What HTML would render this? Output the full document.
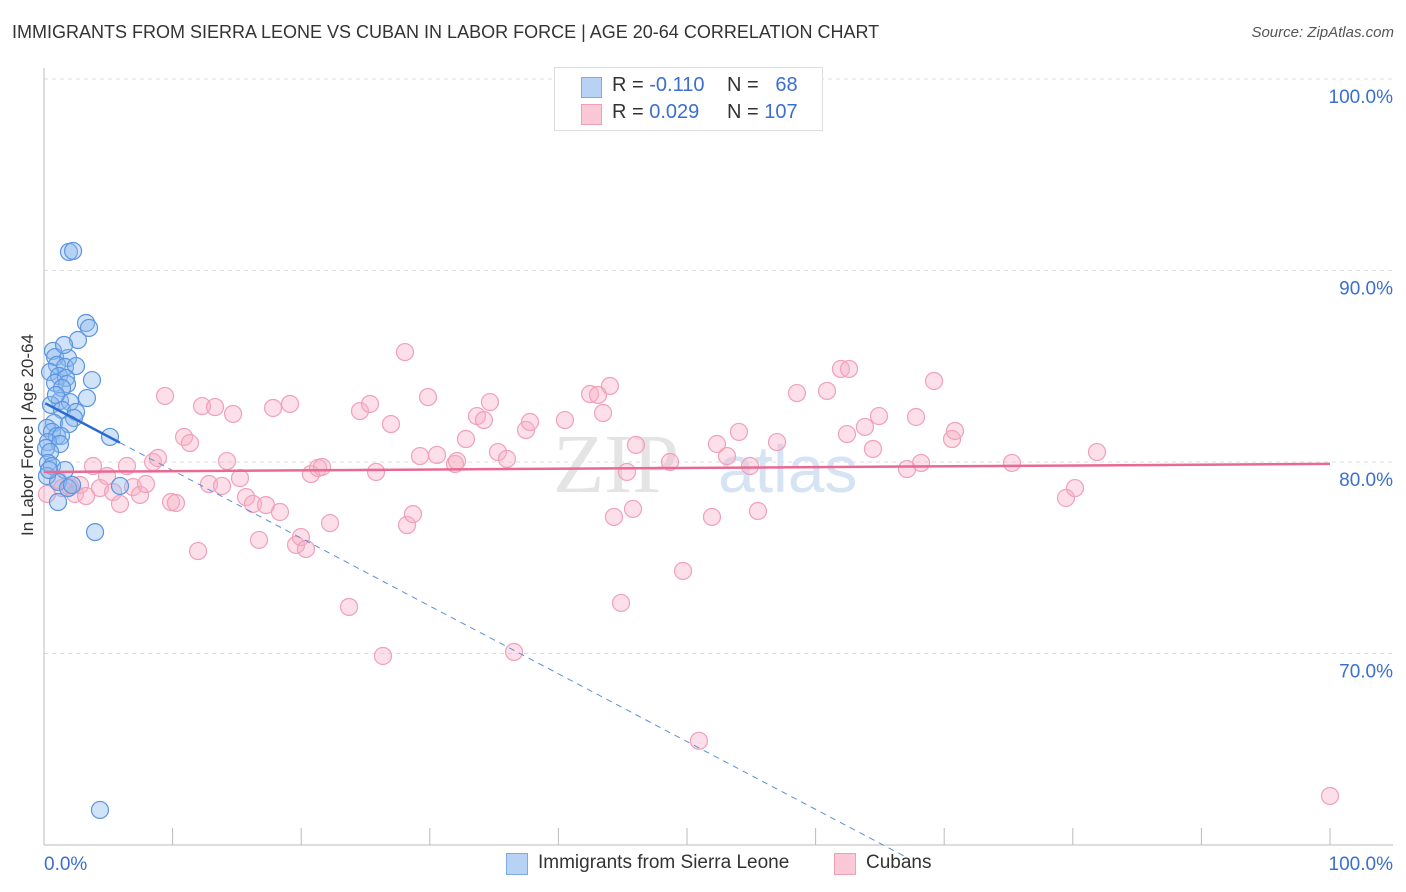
<!DOCTYPE html>
<html><head><meta charset="utf-8">
<style>
body{margin:0;background:#fff;font-family:"Liberation Sans",sans-serif;}
#wrap{position:relative;width:1406px;height:892px;overflow:hidden;}
.t{position:absolute;white-space:nowrap;}
</style></head><body>
<div id="wrap">
<div class="t" style="left:12px;top:22px;font-size:18px;color:#333;">IMMIGRANTS FROM SIERRA LEONE VS CUBAN IN LABOR FORCE | AGE 20-64 CORRELATION CHART</div>
<div class="t" style="right:12px;top:24px;font-size:15px;color:#555;font-style:italic;">Source: ZipAtlas.com</div>
<div class="t" style="left:-52px;top:446px;font-size:17px;color:#333;transform:rotate(-90deg);width:160px;text-align:center;">In Labor Force | Age 20-64</div>
<svg id="svg" width="1406" height="892" style="position:absolute;left:0;top:0"></svg>
<div style="position:absolute;left:554px;top:67px;width:267px;height:62px;border:1px solid #ddd;background:#fff;font-size:20px;">
 <div style="position:absolute;left:26px;top:9px;width:19px;height:19px;background:#b8d2f5;border:1px solid #7fa9e0;"></div>
 <div class="t" style="left:57px;top:6px;color:#333;">R = <span style="color:#3a6fd0">-0.110</span></div>
 <div class="t" style="left:172px;top:6px;color:#333;">N = <span style="color:#3a6fd0">&nbsp;&nbsp;68</span></div>
 <div style="position:absolute;left:26px;top:36px;width:19px;height:19px;background:#fbc8d7;border:1px solid #eea0b8;"></div>
 <div class="t" style="left:57px;top:33px;color:#333;">R = <span style="color:#3a6fd0">0.029</span></div>
 <div class="t" style="left:172px;top:33px;color:#333;">N = <span style="color:#3a6fd0">107</span></div>
</div>
<div style="position:absolute;left:506px;top:853px;width:20px;height:20px;background:#b8d2f5;border:1px solid #7fa9e0;"></div>
<div class="t" style="left:538px;top:852px;font-size:19px;color:#333;">Immigrants from Sierra Leone</div>
<div style="position:absolute;left:834px;top:853px;width:20px;height:20px;background:#fbc8d7;border:1px solid #eea0b8;"></div>
<div class="t" style="left:866px;top:852px;font-size:19px;color:#333;">Cubans</div>
</div>
<script>
const yTicks=[100,90,80,70];
const yTickLabels=["100.0%","90.0%","80.0%","70.0%"];
const xTickLabels=["0.0%","100.0%"];
const blueX=[1.94,2.26,3.27,3.50,2.64,0.70,0.86,1.87,1.01,1.63,2.49,0.47,1.17,1.71,3.73,0.86,1.79,1.40,3.34,1.24,2.02,0.54,1.40,2.49,2.33,0.78,1.94,0.23,0.62,1.01,1.32,5.13,0.31,1.24,0.16,0.47,0.31,0.62,1.63,0.23,1.09,1.87,5.91,1.09,3.97,4.35,2.18,0.39,0.93,1.56];
const blueY=[90.97,91.02,87.26,87.0,86.37,85.8,85.48,85.43,85.07,84.96,85.01,84.7,84.49,84.39,84.28,84.13,84.07,83.86,83.34,83.19,83.13,82.98,82.72,82.61,82.30,82.04,81.98,81.78,81.57,81.36,81.36,81.31,81.04,80.94,80.73,80.52,79.95,79.79,79.58,79.27,78.96,78.64,78.75,77.91,76.34,61.83,78.80,79.58,83.50,86.11];
const pinkX=[0.23,1.09,1.40,2.02,2.41,2.80,3.27,3.81,4.35,4.90,5.37,5.91,6.45,6.92,7.47,7.93,8.48,8.86,9.41,9.88,10.26,10.89,11.35,11.98,12.29,12.83,13.30,13.84,14.23,14.70,15.24,15.71,16.25,16.72,17.26,17.81,18.35,19.13,19.60,19.98,20.37,20.76,21.31,21.62,22.24,23.72,24.57,25.35,25.82,26.36,26.98,28.07,28.23,28.69,29.24,29.86,30.56,31.96,32.12,32.81,33.67,34.21,34.68,35.30,36.00,36.55,37.48,37.79,40.51,42.46,43.08,43.47,44.01,44.32,44.87,45.33,45.80,46.03,48.68,49.69,50.93,51.94,52.33,53.11,54.04,54.90,55.52,57.00,58.55,60.89,61.97,62.60,62.44,63.84,64.46,64.93,67.11,67.81,68.20,69.21,70.61,70.84,75.27,79.47,80.17,81.88,100];
const pinkY=[78.33,79.06,78.64,78.69,78.33,78.80,78.22,79.79,78.64,79.27,78.43,77.81,79.79,78.69,78.28,78.85,80.0,80.21,83.45,77.91,77.86,81.31,80.99,75.35,82.92,78.85,82.87,78.75,80.05,82.51,79.16,78.17,77.81,75.93,77.75,82.82,77.39,83.03,75.67,76.08,75.46,79.37,79.69,79.74,76.81,72.43,82.66,83.03,79.48,69.87,81.98,85.74,76.71,77.28,80.31,83.39,80.37,79.90,80.05,81.20,82.40,82.19,83.13,80.52,80.16,70.08,81.67,82.09,82.19,83.55,83.50,82.56,83.97,77.13,72.64,79.48,77.55,80.89,80.0,74.31,65.44,77.13,80.94,80.31,81.57,79.79,77.44,81.04,83.60,83.71,84.86,84.86,81.46,81.83,80.68,82.40,79.63,82.35,79.95,84.23,81.20,81.62,79.95,78.12,78.64,80.52,62.56];
const blueTrend=[83.1,-0.354];
const pinkTrend=[79.48,0.0042];

const sx=v=>44+v*12.86;
const sy=v=>79+(100-v)*19.15;
const NS="http://www.w3.org/2000/svg";
const svg=document.getElementById('svg');
function mk(tag,a,name){const e=document.createElementNS(NS,tag);for(const k in a)e.setAttribute(k,a[k]);


svg.appendChild(e);return e;}
yTicks.forEach((v,i)=>{
 mk('line',{x1:44,x2:1393,y1:sy(v),y2:sy(v),stroke:'#ddd','stroke-dasharray':'4,4'},'gridline');
 const t=mk('text',{x:1393,y:sy(v)+24,'text-anchor':'end','font-size':19,fill:'#3a6fd0','font-family':'Liberation Sans'},'y-tick-label');t.textContent=yTickLabels[i];
});
mk('line',{x1:44,x2:44,y1:68,y2:845,stroke:'#bbb'},'y-axis');
mk('line',{x1:44,x2:1393,y1:845,y2:845,stroke:'#bbb'},'x-axis');
for(let i=0;i<=10;i++)mk('line',{x1:sx(i*10),x2:sx(i*10),y1:828,y2:845,stroke:'#bbb'},'x-tick');
let t=mk('text',{x:44,y:870,'font-size':19,fill:'#3a6fd0','font-family':'Liberation Sans'},'x-tick-label');t.textContent=xTickLabels[0];
t=mk('text',{x:1393,y:870,'text-anchor':'end','font-size':19,fill:'#3a6fd0','font-family':'Liberation Sans'},'x-tick-label');t.textContent=xTickLabels[1];
t=mk('text',{x:553,y:492,'font-size':84,fill:'#e4e4e4','font-family':'Liberation Serif'},'watermark');t.textContent='ZIP';
t=mk('text',{x:718,y:492,'font-size':66,fill:'#d5e3f5','font-family':'Liberation Sans'},'watermark');t.textContent='atlas';
pinkX.forEach((x,i)=>mk('circle',{cx:sx(x),cy:sy(pinkY[i]),r:8.5,fill:'rgba(248,175,198,0.4)',stroke:'#f0a0ba','stroke-width':1.2},'cuban-point'));
blueX.forEach((x,i)=>mk('circle',{cx:sx(x),cy:sy(blueY[i]),r:8.5,fill:'rgba(140,185,240,0.4)',stroke:'#5b95e0','stroke-width':1.2},'sierra-leone-point'));
const bf=x=>blueTrend[0]+blueTrend[1]*x, pf=x=>pinkTrend[0]+pinkTrend[1]*x;
mk('line',{x1:sx(5.9),y1:sy(bf(5.9)),x2:sx(67.2),y2:sy(bf(67.2)),stroke:'#5b8fd8','stroke-width':1,'stroke-dasharray':'6,5'},'sierra-leone-trend-dashed');
mk('line',{x1:sx(0.1),y1:sy(bf(0.1)),x2:sx(5.9),y2:sy(bf(5.9)),stroke:'#2a6ad0','stroke-width':2.5},'sierra-leone-trend');
mk('line',{x1:sx(0),y1:sy(pf(0)),x2:sx(100),y2:sy(pf(100)),stroke:'#e86a92','stroke-width':2.5},'cuban-trend');
</script>
</body></html>
